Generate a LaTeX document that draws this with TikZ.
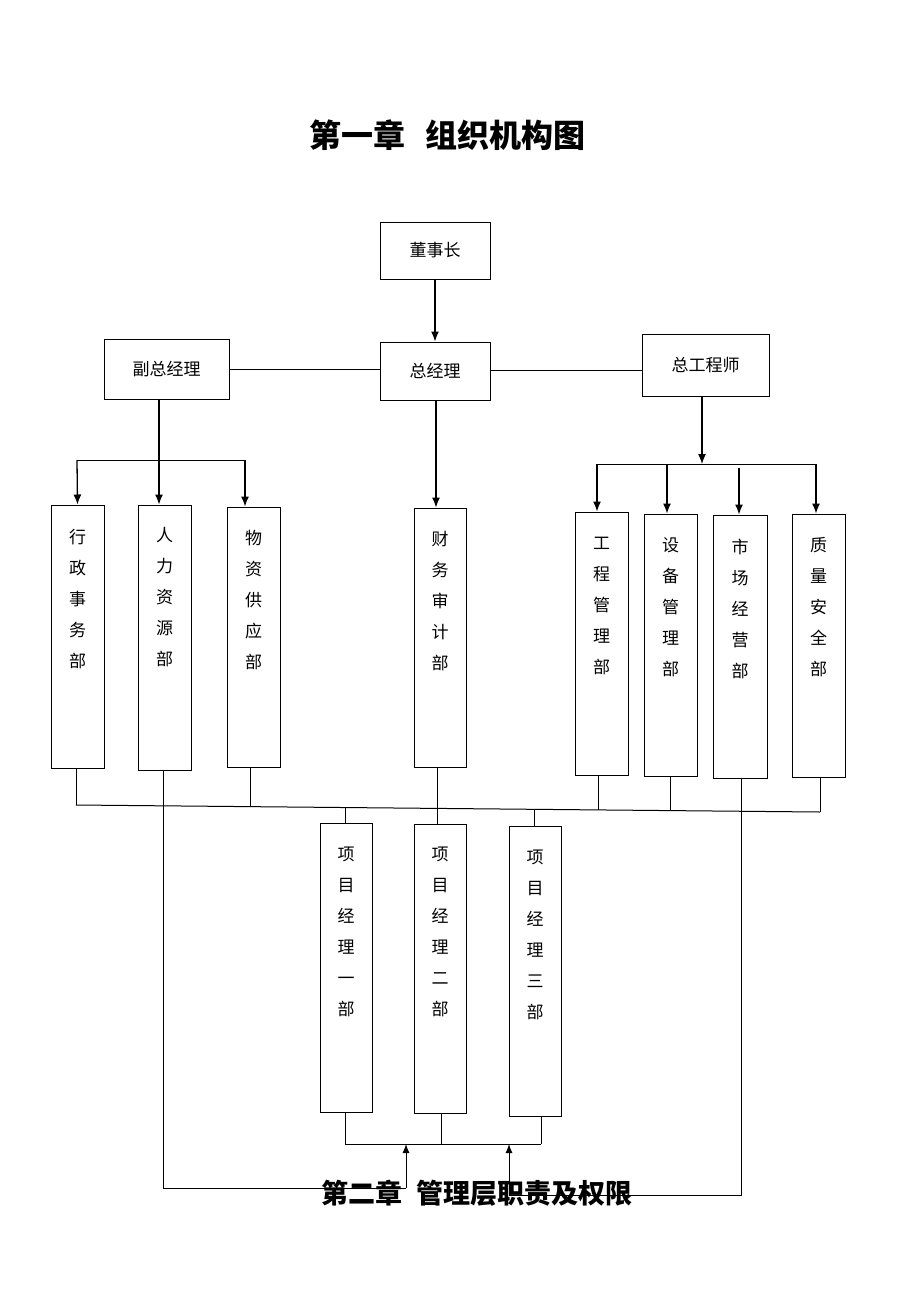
\documentclass[tikz,border=0pt]{standalone}
\usepackage{fontspec}
\newfontfamily\cjk{Noto Sans CJK SC}
\usetikzlibrary{arrows.meta,calc}
\begin{document}
\begin{tikzpicture}[x=1pt,y=-1pt,
  box/.style={draw,line width=1pt,inner sep=0pt},
  hbox/.style={box,font=\cjk\fontsize{17}{20}\selectfont},
  vtext/.style={anchor=north,inner sep=0pt,align=center,font=\cjk\fontsize{17}{31}\selectfont},
  ln/.style={line width=1pt},
  arr/.style={line width=1.3pt,-{Latex[length=10pt,width=8pt]}}]
\fill[white] (0,0) rectangle (920,1302);
\useasboundingbox (0,0) rectangle (920,1302);

% titles
\node[font=\cjk\bfseries\fontsize{32}{36}\selectfont] (t1) at (447,135) {第一章\hspace{20pt}组织机构图};

% top boxes
\node[hbox,minimum width=110pt,minimum height=57pt] (dsz) at (435,250.5) {董事长};
\node[hbox,minimum width=110pt,minimum height=58pt] (zjl) at (435,371) {总经理};
\node[hbox,minimum width=125pt,minimum height=60pt] (fz) at (166.5,369) {副总经理};
\node[hbox,minimum width=127pt,minimum height=62pt] (zg) at (705.5,365) {总工程师};

% department boxes
\node[box,minimum width=53pt,minimum height=263pt] (xz) at (77.5,636.5) {};
\node[box,minimum width=53pt,minimum height=265pt] (rl) at (164.5,637.5) {};
\node[box,minimum width=53pt,minimum height=260pt] (wz) at (253.5,637) {};
\node[box,minimum width=52pt,minimum height=259pt] (cw) at (440,637.5) {};
\node[box,minimum width=53pt,minimum height=263pt] (gc) at (601.5,643.5) {};
\node[box,minimum width=53pt,minimum height=262pt] (sb) at (670.5,645) {};
\node[box,minimum width=54pt,minimum height=263pt] (sc) at (740,646.5) {};
\node[box,minimum width=53pt,minimum height=263pt] (zl) at (818.5,645.5) {};

\node[vtext] (xzt) at (77.5,528.5) {行\\政\\事\\务\\部};
\node[vtext] (rlt) at (164.5,527.5) {人\\力\\资\\源\\部};
\node[vtext] (wzt) at (253.5,530.5) {物\\资\\供\\应\\部};
\node[vtext] (cwt) at (440,531.5) {财\\务\\审\\计\\部};
\node[vtext] (gct) at (601.5,536.5) {工\\程\\管\\理\\部};
\node[vtext] (sbt) at (670.5,537.5) {设\\备\\管\\理\\部};
\node[vtext] (sct) at (740,538.5) {市\\场\\经\\营\\部};
\node[vtext] (zlt) at (818.5,537.5) {质\\量\\安\\全\\部};

% project boxes
\node[box,minimum width=52pt,minimum height=289pt] (p1) at (346,967.5) {};
\node[box,minimum width=52pt,minimum height=289pt] (p2) at (440,968.5) {};
\node[box,minimum width=52pt,minimum height=290pt] (p3) at (535,971) {};
\node[vtext] (p1t) at (346,846.5) {项\\目\\经\\理\\一\\部};
\node[vtext] (p2t) at (440,846.5) {项\\目\\经\\理\\二\\部};
\node[vtext] (p3t) at (535,849.5) {项\\目\\经\\理\\三\\部};

% top connectors
\draw[arr] (dsz.south) -- (zjl.north);
\draw[ln] (fz.east) -- (fz.east -| zjl.west);
\draw[ln] ([yshift=1pt]zjl.east) -- ([yshift=1pt]zjl.east -| zg.west);

% left group
\coordinate (lbL) at (77,460);
\coordinate (lbR) at (245,460);
\draw[arr] ([xshift=-7.5pt]fz.south) -- ([xshift=-5.5pt]rl.north);
\draw[ln] (lbL) -- (lbR);
\draw[arr] (lbL) -- (xz.north);
\draw[arr] (lbR) -- ([xshift=-8.5pt]wz.north);

% finance
\draw[arr] ([xshift=1pt]zjl.south) -- ([xshift=-4pt]cw.north);

% right group
\coordinate (rbC) at (702,464);
\coordinate (rbL) at (597,464);
\coordinate (rbR) at (816,464);
\coordinate (rbS) at (739,468);
\draw[arr] ([xshift=-3.5pt]zg.south) -- (rbC);
\draw[ln] (rbL) -- (rbR);
\draw[arr] (rbL) -- ([xshift=-4.5pt]gc.north);
\draw[arr] (667,464) -- ([xshift=-3.5pt]sb.north);
\draw[arr] (rbS) -- ([xshift=-1pt]sc.north);
\draw[arr] (rbR) -- ([xshift=-2.5pt]zl.north);

% bottom bus
\coordinate (busL) at (76,805);
\coordinate (busR) at (820,812);
\draw[ln] (busL) -- (busR);
\draw[ln] ([xshift=-1.5pt]xz.south) -- (busL);
\draw[ln] ([xshift=-3.5pt]wz.south) -- (250,806.6);
\draw[ln] ([xshift=-3.5pt]gc.south) -- (598,809.9);
\draw[ln] ([xshift=-0.5pt]sb.south) -- (670,810.6);
\draw[ln] ([xshift=1.5pt]zl.south) -- (busR);
\draw[ln] (345,807.5) -- ([xshift=-1pt]p1.north);
\draw[ln] (534,809.3) -- ([xshift=-1pt]p3.north);
\draw[ln] ([xshift=-3pt]cw.south) -- ([xshift=-3pt]p2.north);

% project bottom bar
\coordinate (pbL) at (345,1144);
\coordinate (pbR) at (541,1144);
\draw[ln] ([xshift=-1pt]p1.south) -- (pbL);
\draw[ln] ([xshift=1pt]p2.south) -- (441,1144);
\draw[ln] ([xshift=6pt]p3.south) -- (pbR);
\draw[ln] (pbL) -- (pbR);

% returning arrows
\coordinate (a1) at (406,1188);
\coordinate (a1t) at (406,1144);
\coordinate (a2) at (509,1195);
\coordinate (a2t) at (509,1144);
\draw[ln] ([xshift=-1.5pt]rl.south) |- (a1);
\draw[ln,-{Latex[length=9pt,width=7pt]}] (a1) -- (a1t);
\draw[ln] ([xshift=1pt]sc.south) |- (a2);
\draw[ln,-{Latex[length=9pt,width=7pt]}] (a2) -- (a2t);

\node[font=\cjk\bfseries\fontsize{27}{30}\selectfont] (t2) at (477,1193) {第二章\hspace{14pt}管理层职责及权限};
\end{tikzpicture}
\end{document}
